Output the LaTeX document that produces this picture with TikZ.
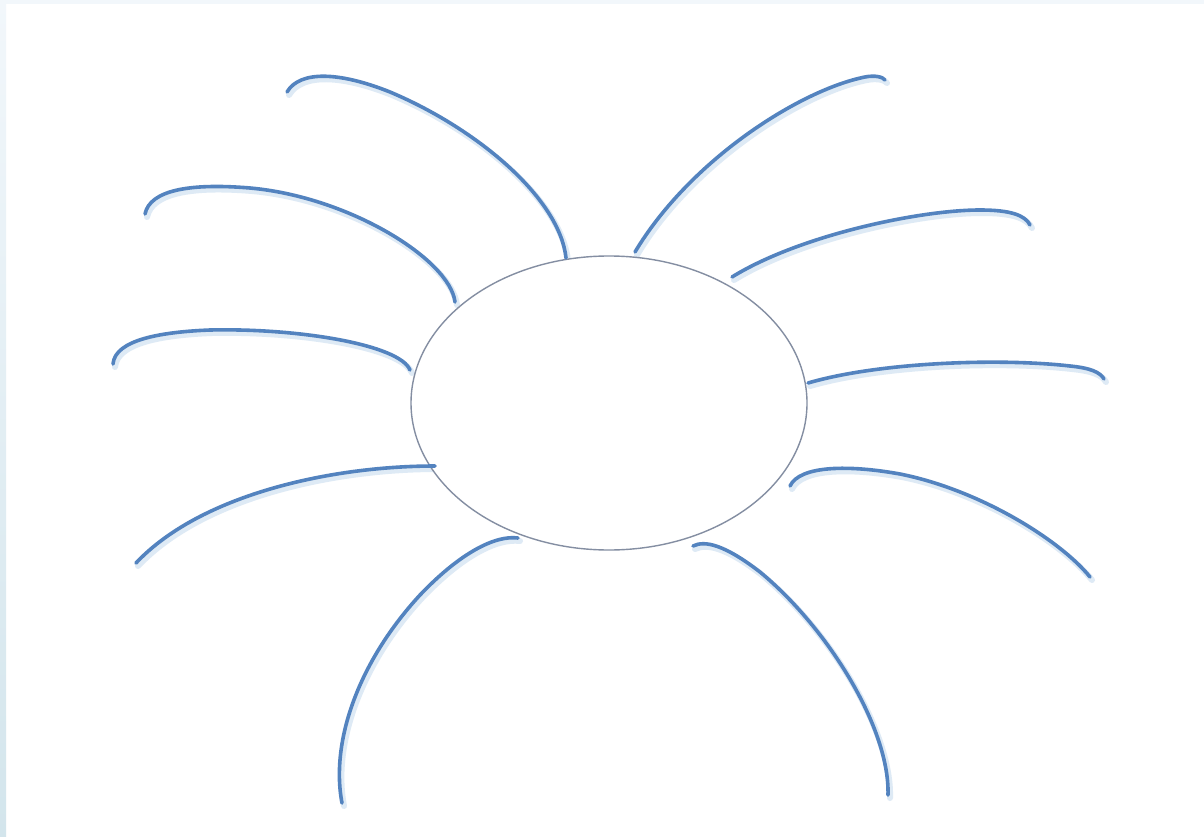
\documentclass[tikz,border=0pt]{standalone}
\usetikzlibrary{shapes.geometric}
\definecolor{legblue}{HTML}{5383BF}
\definecolor{legshadow}{HTML}{C9DCEF}
\definecolor{rimgray}{HTML}{848EA2}
\definecolor{edgetop}{HTML}{F2F7FB}
\definecolor{edgeleftA}{HTML}{F2F7FB}
\definecolor{edgeleftB}{HTML}{D3E5EC}
\tikzset{
  leg/.style={draw=legblue, line width=3.6pt, line cap=round, line join=round},
  legshade/.style={draw=legshadow, line width=6pt, line cap=round, opacity=0.6},
  body/.style={ellipse, draw=rimgray, line width=1.4pt, fill=white, minimum width=396pt, minimum height=294pt, inner sep=0pt}
}
\newcommand\mylegs{%
  {(287,92) .. controls (300,70) and (340,72) .. (390,92) .. controls (480,130) and (560,200) .. (566,258)},
  {(145,214) .. controls (150,190) and (190,183) .. (250,188) .. controls (350,197) and (450,260) .. (455,302)},
  {(113,364) .. controls (115,340) and (160,332) .. (210,330) .. controls (300,328) and (400,345) .. (410,370)},
  {(136,563) .. controls (200,495) and (330,466) .. (435,466)},
  {(342,803) .. controls (330,740) and (360,660) .. (420,595) .. controls (460,553) and (495,535) .. (518,538)},
  {(693,546) .. controls (705,540) and (725,545) .. (760,572) .. controls (830,630) and (890,730) .. (888,795)},
  {(790,486) .. controls (800,465) and (850,465) .. (900,474) .. controls (980,490) and (1060,540) .. (1090,577)},
  {(808,383) .. controls (880,362) and (1000,358) .. (1070,366) .. controls (1090,368) and (1100,372) .. (1104,379)},
  {(732,277) .. controls (800,235) and (920,210) .. (980,210) .. controls (1010,210) and (1025,215) .. (1030,225)},
  {(635,252) .. controls (690,160) and (800,90) .. (865,77) .. controls (875,75) and (883,77) .. (885,80)}}
\begin{document}
\begin{tikzpicture}[x=1pt,y=-1pt]
\useasboundingbox (0,0) rectangle (1204,837);
\fill[white] (0,0) rectangle (1204,837);
\fill[edgetop] (0,0) rectangle (1204,4);
\shade[top color=edgeleftA, bottom color=edgeleftB] (0,0) rectangle (6,837);

\foreach \pts in \mylegs { \draw[legshade, shift={(2,3)}] \pts; }

\node[body] (c) at (609,403) {};

\foreach \pts in \mylegs { \draw[leg] \pts; }
\end{tikzpicture}
\end{document}
